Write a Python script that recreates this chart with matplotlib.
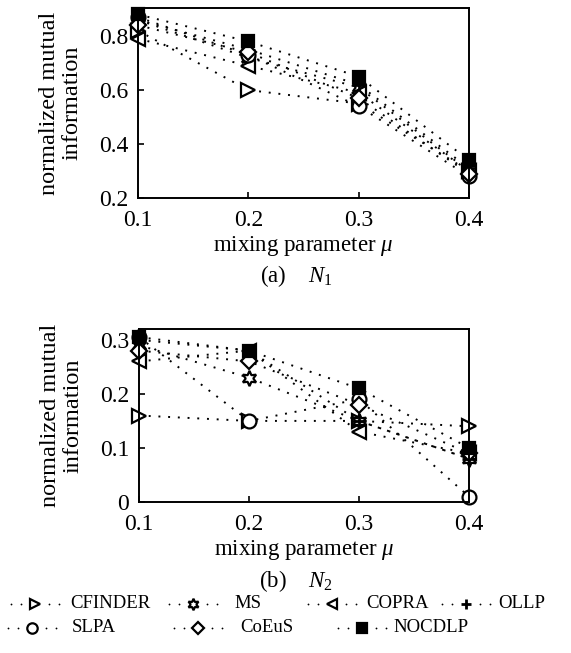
import matplotlib
matplotlib.use("Agg")
import matplotlib.pyplot as plt
from matplotlib.lines import Line2D

plt.rcParams['font.family'] = ['Liberation Serif', 'DejaVu Serif']
plt.rcParams['mathtext.fontset'] = 'custom'
plt.rcParams['mathtext.it'] = 'Liberation Serif:italic'
plt.rcParams['mathtext.rm'] = 'Liberation Serif'

mu = [0.1, 0.2, 0.3, 0.4]
methods = ["CFINDER", "MS", "COPRA", "OLLP", "SLPA", "CoEuS", "NOCDLP"]

n1_cfinder = [0.82, 0.60, 0.55, 0.30]
n1_ms      = [0.86, 0.72, 0.61, 0.30]
n1_copra   = [0.79, 0.69, 0.59, 0.30]
n1_ollp    = [0.86, 0.75, 0.62, 0.31]
n1_slpa    = [0.87, 0.73, 0.54, 0.28]
n1_coeus   = [0.84, 0.74, 0.57, 0.29]
n1_nocdlp  = [0.88, 0.78, 0.65, 0.34]

n2_cfinder = [0.16, 0.15, 0.15, 0.14]
n2_ms      = [0.29, 0.23, 0.15, 0.08]
n2_copra   = [0.26, 0.28, 0.13, 0.09]
n2_ollp    = [0.30, 0.28, 0.15, 0.08]
n2_slpa    = [0.305, 0.15, 0.19, 0.01]
n2_coeus   = [0.28, 0.26, 0.18, 0.09]
n2_nocdlp  = [0.305, 0.28, 0.21, 0.10]

n1 = [n1_cfinder, n1_ms, n1_copra, n1_ollp, n1_slpa, n1_coeus, n1_nocdlp]
n2 = [n2_cfinder, n2_ms, n2_copra, n2_ollp, n2_slpa, n2_coeus, n2_nocdlp]

styles = {
    "CFINDER": dict(marker='>', mfc='white', ms=10),
    "MS":      dict(marker=(6, 1, 0), mfc='white', ms=11),
    "COPRA":   dict(marker='<', mfc='white', ms=10),
    "OLLP":    dict(marker='+', mfc='black', ms=10, mew=2),
    "SLPA":    dict(marker='o', mfc='white', ms=10),
    "CoEuS":   dict(marker='D', mfc='white', ms=8),
    "NOCDLP":  dict(marker='s', mfc='black', ms=9),
}
LS = (0, (1, 4))

W, H = 571, 653
fig = plt.figure(figsize=(W/100, H/100), dpi=100)

def axrect(l, t, r, b):
    return [l/W, 1 - b/H, (r-l)/W, (b-t)/H]

ax1 = fig.add_axes(axrect(138, 8, 469, 198))
ax2 = fig.add_axes(axrect(139, 329, 469, 502))

def draw(ax, data, ylim, yticks, yticklabels):
    for name, vals in zip(methods, data):
        st = dict(styles[name])
        ax.plot(mu, vals, color='black', linestyle=LS, lw=1.4,
                mec='black', mew=st.pop('mew', 1.6), clip_on=False, **st)
    ax.set_xlim(0.1, 0.4)
    ax.set_ylim(*ylim)
    ax.set_xticks(mu)
    ax.set_xticklabels(['0.1', '0.2', '0.3', '0.4'])
    ax.set_yticks(yticks)
    ax.set_yticklabels(yticklabels)
    ax.tick_params(direction='in', length=4, width=1.2, labelsize=17)
    ax.tick_params(axis='x', pad=9)
    ax.tick_params(axis='y', pad=7)
    for s in ax.spines.values():
        s.set_linewidth(1.4)
    ax.set_xlabel(r'mixing parameter $\mu$', fontsize=16.5, labelpad=2)
    ax.set_ylabel('normalized mutual\ninformation', fontsize=17.5, labelpad=12,
                  linespacing=1.1)

draw(ax1, n1, (0.2, 0.904), [0.2, 0.4, 0.6, 0.8], ['0.2', '0.4', '0.6', '0.8'])
draw(ax2, n2, (0.0, 0.32), [0.0, 0.1, 0.2, 0.3], ['0', '0.1', '0.2', '0.3'])

fig.text(296/W, 1 - 276/H, r'(a)    $N_{\mathregular{1}}$', ha='center', va='center', fontsize=16.5)
fig.text(296/W, 1 - 581/H, r'(b)    $N_{\mathregular{2}}$', ha='center', va='center', fontsize=16.5)

# legend entries drawn manually: (name, row y, marker x, text x)
legend_layout = [
    ("CFINDER", 604, 35, 70),
    ("MS",      604, 193, 234),
    ("COPRA",   604, 332, 366),
    ("OLLP",    604, 466, 498),
    ("SLPA",    628, 32, 72),
    ("CoEuS",   628, 198, 240),
    ("NOCDLP",  628, 362, 393),
]
for name, y, xm, tx in legend_layout:
    st = dict(styles[name])
    mew = st.pop('mew', 1.6)
    st['ms'] = st['ms'] * 0.75
    yf = 1 - y/H
    # two dots before and after each marker
    for xs in ([xm - 24, xm - 14], [xm + 14, xm + 24]):
        fig.add_artist(Line2D([x/W for x in xs], [yf, yf], transform=fig.transFigure,
                              linestyle='none', marker='o', ms=1.3, mew=0,
                              color='black'))
    fig.add_artist(Line2D([xm/W], [yf], transform=fig.transFigure, linestyle='none',
                          mec='black', mew=mew, **st))
    fig.text(tx/W, yf, name, ha='left', va='center', fontsize=13.5)

fig.savefig('out.png', dpi=100)
